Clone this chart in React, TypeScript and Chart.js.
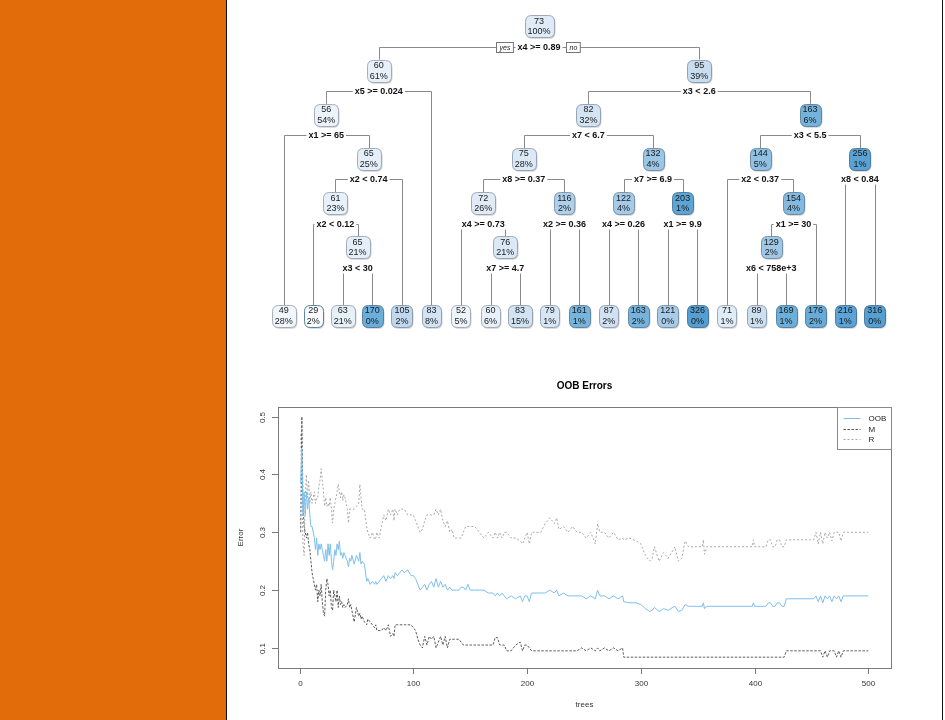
import React, { useEffect, useRef } from "react";
import { Chart, registerables } from "chart.js";

Chart.register(...registerables);

// ---------------- Regression tree (rpart numbering: children of n are 2n, 2n+1) ----------------
const nodeIds = [1, 2, 3, 4, 5, 6, 7, 8, 9, 12, 13, 14, 15, 18, 19, 24, 25, 26, 27, 28, 29, 30, 31, 36, 37, 48, 49, 50, 51, 52, 53, 54, 55, 58, 59, 74, 75, 98, 99, 116, 117];
const nodeValues = [73, 60, 95, 56, 83, 82, 163, 49, 65, 75, 132, 144, 256, 61, 105, 72, 116, 122, 203, 71, 154, 216, 316, 29, 65, 52, 76, 79, 161, 87, 163, 121, 326, 129, 176, 63, 170, 60, 83, 89, 169];
const nodePercents = [100, 61, 39, 54, 8, 32, 6, 28, 25, 28, 4, 5, 1, 23, 2, 26, 2, 4, 1, 1, 4, 1, 0, 2, 21, 5, 21, 1, 1, 2, 2, 0, 0, 2, 2, 21, 0, 6, 15, 1, 1];
const nodeSplits = [
  "x4 >= 0.89", "x5 >= 0.024", "x3 < 2.6", "x1 >= 65", "", "x7 < 6.7", "x3 < 5.5", "", "x2 < 0.74",
  "x8 >= 0.37", "x7 >= 6.9", "x2 < 0.37", "x8 < 0.84", "x2 < 0.12", "", "x4 >= 0.73", "x2 >= 0.36",
  "x4 >= 0.26", "x1 >= 9.9", "", "x1 >= 30", "", "", "", "x3 < 30", "", "x7 >= 4.7", "", "", "", "",
  "", "", "x6 < 758e+3", "", "", "", "", "", "", "",
];
const yesLabel = "yes";
const noLabel = "no";

// ---------------- OOB error curves ----------------
const treesX = [
  1, 2, 3, 4, 5, 6, 7, 8, 9, 10, 11, 12, 13, 14, 15, 16, 17, 18, 19, 20, 21, 22, 23, 24, 25, 26, 27, 28, 29, 30,
  31, 32, 33, 34, 35, 36, 37, 38, 39, 40, 42, 43, 44, 45, 46, 48, 50, 52, 53, 54, 55, 57, 59, 60, 62, 64, 66, 67, 68, 70,
  72, 74, 76, 78, 80, 82, 83, 84, 86, 88, 90, 92, 95, 98, 100, 102, 104, 106, 108, 110, 112, 114, 116, 118, 120, 122, 124, 126, 128, 130,
  132, 134, 136, 138, 140, 142, 144, 146, 148, 150, 154, 158, 162, 166, 170, 172, 174, 176, 178, 180, 182, 186, 190, 194, 196, 198, 200, 202, 204, 208,
  212, 216, 220, 224, 226, 228, 232, 236, 240, 244, 248, 252, 256, 260, 262, 264, 268, 272, 276, 280, 284, 285, 290, 296, 300, 304, 308, 310, 312, 316,
  320, 324, 328, 330, 333, 336, 339, 342, 346, 350, 354, 355, 356, 358, 398, 399, 400, 410, 412, 414, 416, 418, 420, 422, 424, 426, 428, 440, 452, 454,
  456, 458, 460, 462, 464, 466, 468, 470, 472, 474, 476, 478, 482, 490, 500,
];
const oobError = [
  0.385, 0.445, 0.33, 0.37, 0.33, 0.37, 0.34, 0.36, 0.33, 0.31, 0.31, 0.30, 0.29, 0.27, 0.29, 0.26, 0.28, 0.27, 0.28, 0.27, 0.26, 0.25, 0.27, 0.25, 0.28, 0.26, 0.28, 0.25, 0.235, 0.25,
  0.27, 0.26, 0.28, 0.27, 0.285, 0.26, 0.265, 0.255, 0.265, 0.26, 0.25, 0.24, 0.255, 0.25, 0.26, 0.245, 0.26, 0.25, 0.265, 0.245, 0.25, 0.245, 0.215, 0.22, 0.21, 0.215, 0.21, 0.215, 0.21, 0.215,
  0.22, 0.225, 0.215, 0.225, 0.22, 0.225, 0.22, 0.23, 0.225, 0.23, 0.235, 0.23, 0.235, 0.225, 0.225, 0.22, 0.21, 0.20, 0.205, 0.21, 0.20, 0.21, 0.215, 0.205, 0.22, 0.205, 0.215, 0.205, 0.21, 0.20,
  0.205, 0.20, 0.20, 0.20, 0.20, 0.205, 0.205, 0.20, 0.21, 0.20, 0.20, 0.20, 0.20, 0.195, 0.195, 0.19, 0.195, 0.19, 0.195, 0.19, 0.185, 0.19, 0.185, 0.19, 0.18, 0.19, 0.19, 0.18, 0.195, 0.195,
  0.195, 0.195, 0.20, 0.195, 0.20, 0.19, 0.195, 0.19, 0.19, 0.19, 0.19, 0.185, 0.19, 0.185, 0.20, 0.19, 0.19, 0.185, 0.19, 0.185, 0.19, 0.18, 0.178, 0.178, 0.175, 0.168, 0.163, 0.165, 0.17, 0.163,
  0.168, 0.165, 0.17, 0.172, 0.163, 0.165, 0.175, 0.172, 0.172, 0.172, 0.172, 0.178, 0.168, 0.172, 0.172, 0.178, 0.172, 0.172, 0.178, 0.178, 0.172, 0.172, 0.178, 0.178, 0.172, 0.172, 0.185, 0.185, 0.185, 0.19,
  0.18, 0.19, 0.178, 0.19, 0.185, 0.19, 0.18, 0.19, 0.185, 0.19, 0.18, 0.19, 0.19, 0.19, 0.19,
];
const mError = [
  0.30, 0.50, 0.35, 0.31, 0.30, 0.29, 0.30, 0.28, 0.27, 0.25, 0.23, 0.22, 0.21, 0.20, 0.21, 0.18, 0.20, 0.19, 0.21, 0.18, 0.16, 0.155, 0.20, 0.22, 0.21, 0.19, 0.20, 0.17, 0.165, 0.20,
  0.19, 0.18, 0.20, 0.17, 0.19, 0.175, 0.18, 0.17, 0.175, 0.17, 0.175, 0.185, 0.17, 0.175, 0.165, 0.145, 0.17, 0.155, 0.16, 0.15, 0.155, 0.145, 0.14, 0.15, 0.145, 0.14, 0.135, 0.14, 0.13, 0.13,
  0.13, 0.135, 0.13, 0.14, 0.12, 0.125, 0.12, 0.14, 0.14, 0.14, 0.14, 0.14, 0.14, 0.14, 0.135, 0.13, 0.115, 0.105, 0.10, 0.12, 0.105, 0.12, 0.115, 0.12, 0.10, 0.11, 0.12, 0.105, 0.12, 0.10,
  0.115, 0.115, 0.115, 0.115, 0.115, 0.11, 0.105, 0.105, 0.105, 0.105, 0.105, 0.105, 0.105, 0.105, 0.105, 0.118, 0.118, 0.105, 0.105, 0.105, 0.095, 0.095, 0.105, 0.11, 0.095, 0.105, 0.105, 0.10, 0.095, 0.095,
  0.095, 0.095, 0.095, 0.095, 0.095, 0.095, 0.095, 0.095, 0.095, 0.095, 0.10, 0.095, 0.10, 0.095, 0.10, 0.095, 0.10, 0.095, 0.10, 0.095, 0.10, 0.084, 0.084, 0.084, 0.084, 0.084, 0.084, 0.084, 0.084, 0.084,
  0.084, 0.084, 0.084, 0.084, 0.084, 0.084, 0.084, 0.084, 0.084, 0.084, 0.084, 0.084, 0.084, 0.084, 0.084, 0.084, 0.084, 0.084, 0.084, 0.084, 0.084, 0.084, 0.084, 0.084, 0.084, 0.084, 0.095, 0.095, 0.095, 0.095,
  0.095, 0.095, 0.084, 0.095, 0.084, 0.095, 0.095, 0.095, 0.084, 0.095, 0.084, 0.095, 0.095, 0.095, 0.095,
];
const rError = [
  0.47, 0.38, 0.28, 0.26, 0.36, 0.40, 0.36, 0.39, 0.35, 0.37, 0.35, 0.36, 0.37, 0.35, 0.36, 0.36, 0.38, 0.39, 0.41, 0.39, 0.37, 0.345, 0.36, 0.345, 0.35, 0.345, 0.36, 0.34, 0.316, 0.34,
  0.35, 0.36, 0.37, 0.383, 0.37, 0.36, 0.37, 0.355, 0.365, 0.36, 0.34, 0.316, 0.34, 0.34, 0.34, 0.34, 0.345, 0.35, 0.383, 0.36, 0.34, 0.34, 0.31, 0.30, 0.29, 0.30, 0.287, 0.29, 0.30, 0.29,
  0.31, 0.33, 0.32, 0.34, 0.33, 0.34, 0.32, 0.34, 0.33, 0.34, 0.34, 0.34, 0.33, 0.33, 0.33, 0.32, 0.31, 0.30, 0.305, 0.32, 0.33, 0.33, 0.33, 0.33, 0.34, 0.33, 0.34, 0.32, 0.31, 0.32,
  0.30, 0.305, 0.29, 0.29, 0.29, 0.29, 0.30, 0.31, 0.31, 0.31, 0.31, 0.30, 0.29, 0.30, 0.29, 0.30, 0.29, 0.30, 0.29, 0.30, 0.30, 0.29, 0.29, 0.285, 0.28, 0.29, 0.30, 0.28, 0.30, 0.30,
  0.30, 0.315, 0.325, 0.315, 0.325, 0.305, 0.31, 0.30, 0.31, 0.30, 0.30, 0.29, 0.30, 0.28, 0.315, 0.30, 0.30, 0.29, 0.30, 0.287, 0.29, 0.287, 0.29, 0.285, 0.28, 0.26, 0.25, 0.255, 0.275, 0.25,
  0.265, 0.255, 0.268, 0.275, 0.25, 0.255, 0.285, 0.275, 0.275, 0.275, 0.275, 0.287, 0.262, 0.275, 0.275, 0.287, 0.275, 0.275, 0.287, 0.287, 0.275, 0.275, 0.287, 0.287, 0.275, 0.275, 0.287, 0.287, 0.287, 0.30,
  0.28, 0.30, 0.28, 0.30, 0.29, 0.30, 0.285, 0.30, 0.30, 0.30, 0.285, 0.30, 0.30, 0.30, 0.30,
];
const seriesLabels = ["OOB", "M", "R"];
const xTickValues = [0, 100, 200, 300, 400, 500];
const yTickValues = [0.1, 0.2, 0.3, 0.4, 0.5];
const chartTitle = "OOB Errors";
const xAxisTitle = "trees";
const yAxisTitle = "Error";

// ---------------- styles ----------------
const FONT = '"Liberation Sans", Arial, Helvetica, sans-serif';
const LEAF_DEPTH = 6.55;
const BOX_H = 22;
const SPLIT_OFFSET = 20.3;
const paletteStops: [number, string][] = [
  [29, "#F8FBFF"], [50, "#F1F6FC"], [60, "#E8F1FA"], [73, "#DFEBF7"], [83, "#D2E3F3"], [95, "#C8DDF0"],
  [105, "#C0D8EE"], [122, "#A6CBE8"], [132, "#9CC6E5"], [150, "#8ABDE1"], [170, "#6AAED9"], [200, "#5DA5D5"], [330, "#559ED1"],
];
const seriesColors = ["#7DBFEE", "#5c5c5c", "#a8a8a8"];
const seriesDash = [[], [2.5, 1.5], [2, 2]];

function hexToRgb(h: string) {
  const n = parseInt(h.slice(1), 16);
  return [(n >> 16) & 255, (n >> 8) & 255, n & 255];
}
function fillFor(v: number) {
  let a = paletteStops[0], b = paletteStops[paletteStops.length - 1];
  if (v <= a[0]) return a[1];
  for (let i = 0; i < paletteStops.length - 1; i++) {
    if (v >= paletteStops[i][0] && v <= paletteStops[i + 1][0]) { a = paletteStops[i]; b = paletteStops[i + 1]; break; }
  }
  const t = (v - a[0]) / (b[0] - a[0] || 1);
  const ca = hexToRgb(a[1]), cb = hexToRgb(b[1]);
  const c = ca.map((x, i) => Math.round(x + (cb[i] - x) * t));
  return `rgb(${c[0]},${c[1]},${c[2]})`;
}
function borderFor(v: number) {
  const f = fillFor(v).match(/\d+/g)!.map(Number);
  return `rgb(${Math.round(f[0] * 0.62)},${Math.round(f[1] * 0.64)},${Math.round(f[2] * 0.68)})`;
}
function rr(ctx: CanvasRenderingContext2D, x: number, y: number, w: number, h: number, r: number) {
  ctx.beginPath();
  ctx.moveTo(x + r, y);
  ctx.lineTo(x + w - r, y);
  ctx.quadraticCurveTo(x + w, y, x + w, y + r);
  ctx.lineTo(x + w, y + h - r);
  ctx.quadraticCurveTo(x + w, y + h, x + w - r, y + h);
  ctx.lineTo(x + r, y + h);
  ctx.quadraticCurveTo(x, y + h, x, y + h - r);
  ctx.lineTo(x, y + r);
  ctx.quadraticCurveTo(x, y, x + r, y);
  ctx.closePath();
}

// layout from tree structure: leaves evenly spaced, parent centred over children
function computeLayout() {
  const idSet = new Set(nodeIds);
  const out = new Map<number, { x: number; y: number }>();
  let leaf = 0;
  const walk = (id: number, depth: number): number => {
    if (!idSet.has(2 * id)) {
      const x = leaf++;
      out.set(id, { x, y: LEAF_DEPTH });
      return x;
    }
    const lx = walk(2 * id, depth + 1);
    const rx = walk(2 * id + 1, depth + 1);
    const x = (lx + rx) / 2;
    out.set(id, { x, y: depth });
    return x;
  };
  walk(1, 0);
  return { pts: nodeIds.map((id) => out.get(id)!), leaves: leaf };
}

const treePlugin = {
  id: "treeDraw",
  afterDatasetsDraw(chart: any) {
    const ctx: CanvasRenderingContext2D = chart.ctx;
    const meta = chart.getDatasetMeta(0);
    const pos = new Map<number, { x: number; y: number }>();
    nodeIds.forEach((id, i) => pos.set(id, { x: meta.data[i].x, y: meta.data[i].y }));
    ctx.save();
    // branches
    ctx.strokeStyle = "#8a8a8a";
    ctx.lineWidth = 1;
    nodeIds.forEach((id, i) => {
      if (!nodeSplits[i]) return;
      const p = pos.get(id)!, l = pos.get(2 * id)!, r = pos.get(2 * id + 1)!;
      const sy = Math.round(p.y + SPLIT_OFFSET) + 0.5;
      const lx = Math.round(l.x) + 0.5, rx = Math.round(r.x) + 0.5;
      ctx.beginPath();
      ctx.moveTo(lx, l.y - BOX_H / 2);
      ctx.lineTo(lx, sy);
      ctx.lineTo(rx, sy);
      ctx.lineTo(rx, r.y - BOX_H / 2);
      ctx.stroke();
    });
    // split labels
    ctx.textAlign = "center";
    ctx.textBaseline = "middle";
    nodeIds.forEach((id, i) => {
      const s = nodeSplits[i];
      if (!s) return;
      const p = pos.get(id)!;
      const sy = Math.round(p.y + SPLIT_OFFSET) + 0.5;
      ctx.font = `bold 9px ${FONT}`;
      const w = ctx.measureText(s).width;
      ctx.fillStyle = "#fff";
      ctx.fillRect(p.x - w / 2 - 2, sy - 5, w + 4, 10);
      ctx.fillStyle = "#111";
      ctx.fillText(s, p.x, sy + 0.5);
      if (id === 1) {
        ctx.font = `italic 7px ${FONT}`;
        const yw = ctx.measureText(yesLabel).width + 6;
        const nw = ctx.measureText(noLabel).width + 6;
        const yx = p.x - w / 2 - 4.5 - yw;
        const nx = p.x + w / 2 + 5.5;
        ctx.fillStyle = "#fff";
        ctx.strokeStyle = "#777";
        ctx.fillRect(Math.round(yx) + 0.5, sy - 5, yw, 10);
        ctx.strokeRect(Math.round(yx) + 0.5, sy - 5, yw, 10);
        ctx.fillRect(Math.round(nx) + 0.5, sy - 5, nw, 10);
        ctx.strokeRect(Math.round(nx) + 0.5, sy - 5, nw, 10);
        ctx.fillStyle = "#222";
        ctx.fillText(yesLabel, Math.round(yx) + 0.5 + yw / 2, sy + 0.5);
        ctx.fillText(noLabel, Math.round(nx) + 0.5 + nw / 2, sy + 0.5);
      }
    });
    // node boxes
    nodeIds.forEach((id, i) => {
      const p = pos.get(id)!;
      const t1 = String(nodeValues[i]);
      const t2 = `${nodePercents[i]}%`;
      ctx.font = `9px ${FONT}`;
      const w = Math.max(ctx.measureText(t1).width, ctx.measureText(t2).width) + 6;
      const x0 = Math.round(p.x - w / 2) + 0.5, y0 = Math.round(p.y - BOX_H / 2) + 0.5;
      ctx.fillStyle = "rgba(0,0,0,0.18)";
      rr(ctx, x0 + 1, y0 + 1.2, w, BOX_H, 6);
      ctx.fill();
      ctx.fillStyle = fillFor(nodeValues[i]);
      rr(ctx, x0, y0, w, BOX_H, 6);
      ctx.fill();
      ctx.strokeStyle = borderFor(nodeValues[i]);
      ctx.lineWidth = 0.8;
      ctx.stroke();
      ctx.fillStyle = "#1a1a1a";
      ctx.textAlign = "center";
      ctx.textBaseline = "middle";
      ctx.fillText(t1, p.x, p.y - 5);
      ctx.fillText(t2, p.x, p.y + 5.5);
    });
    ctx.restore();
  },
};

const axesPlugin = {
  id: "rAxes",
  afterDraw(chart: any) {
    const ctx: CanvasRenderingContext2D = chart.ctx;
    const a = chart.chartArea;
    const xs = chart.scales.x, ys = chart.scales.y;
    ctx.save();
    ctx.strokeStyle = "#7a7a7a";
    ctx.lineWidth = 1;
    ctx.strokeRect(Math.round(a.left) + 0.5, Math.round(a.top) + 0.5, Math.round(a.right - a.left), Math.round(a.bottom - a.top));
    ctx.fillStyle = "#333";
    ctx.font = `8px ${FONT}`;
    ctx.textAlign = "center";
    ctx.textBaseline = "middle";
    xTickValues.forEach((v) => {
      const x = Math.round(xs.getPixelForValue(v)) + 0.5;
      ctx.beginPath();
      ctx.moveTo(x, a.bottom);
      ctx.lineTo(x, a.bottom + 6);
      ctx.stroke();
      ctx.fillText(String(v), x, a.bottom + 15.5);
    });
    yTickValues.forEach((v) => {
      const y = Math.round(ys.getPixelForValue(v)) + 0.5;
      ctx.beginPath();
      ctx.moveTo(a.left, y);
      ctx.lineTo(a.left - 6, y);
      ctx.stroke();
      ctx.save();
      ctx.translate(a.left - 15.5, y);
      ctx.rotate(-Math.PI / 2);
      ctx.fillText(v.toFixed(1), 0, 0);
      ctx.restore();
    });
    // axis titles
    ctx.fillText(xAxisTitle, (a.left + a.right) / 2, a.bottom + 37);
    ctx.save();
    ctx.translate(a.left - 37, (a.top + a.bottom) / 2);
    ctx.rotate(-Math.PI / 2);
    ctx.fillText(yAxisTitle, 0, 0);
    ctx.restore();
    // title
    ctx.fillStyle = "#000";
    ctx.font = `bold 10px ${FONT}`;
    ctx.fillText(chartTitle, (a.left + a.right) / 2, a.top - 21);
    // legend
    const lw = 54, lh = 42;
    const lx = Math.round(a.right - lw) + 0.5, ly = Math.round(a.top) + 0.5;
    ctx.fillStyle = "#fff";
    ctx.fillRect(lx, ly, lw, lh);
    ctx.strokeStyle = "#8a8a8a";
    ctx.strokeRect(lx, ly, lw, lh);
    ctx.font = `8px ${FONT}`;
    ctx.textAlign = "left";
    seriesLabels.forEach((lab, i) => {
      const yy = Math.round(a.top + 11 + i * 10.5) + 0.5;
      ctx.strokeStyle = seriesColors[i];
      ctx.setLineDash(seriesDash[i]);
      ctx.beginPath();
      ctx.moveTo(lx + 6, yy);
      ctx.lineTo(lx + 23, yy);
      ctx.stroke();
      ctx.setLineDash([]);
      ctx.fillStyle = "#222";
      ctx.fillText(lab, lx + 31, yy);
    });
    ctx.restore();
  },
};

export default function App() {
  const treeRef = useRef<HTMLCanvasElement>(null);
  const oobRef = useRef<HTMLCanvasElement>(null);

  useEffect(() => {
    const { pts, leaves } = computeLayout();
    const tree = new Chart(treeRef.current!, {
      type: "scatter",
      data: { datasets: [{ data: pts, pointRadius: 0, pointHoverRadius: 0 }] },
      options: {
        animation: false,
        responsive: false,
        events: [],
        layout: { padding: { left: 55.7, right: 66.3, top: 26.3, bottom: 29 } },
        scales: {
          x: { type: "linear", display: false, min: 0, max: leaves - 1 },
          y: { type: "linear", display: false, min: 0, max: LEAF_DEPTH, reverse: true },
        },
        plugins: { legend: { display: false }, tooltip: { enabled: false } },
      },
      plugins: [treePlugin],
    } as any);

    const series = [oobError, mError, rError];
    const oob = new Chart(oobRef.current!, {
      type: "line",
      data: {
        datasets: series.map((vals, i) => ({
          label: seriesLabels[i],
          data: treesX.map((t, k) => ({ x: t, y: vals[k] })),
          borderColor: seriesColors[i],
          borderWidth: 1,
          borderDash: seriesDash[i],
          pointRadius: 0,
          tension: 0,
          fill: false,
          order: i,
        })),
      },
      options: {
        animation: false,
        responsive: false,
        events: [],
        layout: { padding: { left: 50, right: 50, top: 62, bottom: 52 } },
        scales: {
          x: { type: "linear", display: false, min: -18.96, max: 519.96 },
          y: { type: "linear", display: false, min: 0.0653, max: 0.5167 },
        },
        plugins: { legend: { display: false }, tooltip: { enabled: false } },
      },
      plugins: [axesPlugin],
    } as any);

    return () => {
      tree.destroy();
      oob.destroy();
    };
  }, []);

  return (
    <div style={{ position: "fixed", left: 0, top: 0, width: 945, height: 720, background: "#fff", overflow: "hidden" }}>
      <div style={{ position: "absolute", left: 0, top: 0, width: 226, height: 720, background: "#E36C0A" }} />
      <div style={{ position: "absolute", left: 226, top: 0, width: 1, height: 720, background: "#111" }} />
      <div style={{ position: "absolute", left: 942, top: 0, width: 1, height: 720, background: "#111" }} />
      <canvas ref={treeRef} width={713} height={345} style={{ position: "absolute", left: 228, top: 0, display: "block" }} />
      <canvas ref={oobRef} width={713} height={375} style={{ position: "absolute", left: 228, top: 345, display: "block" }} />
    </div>
  );
}
